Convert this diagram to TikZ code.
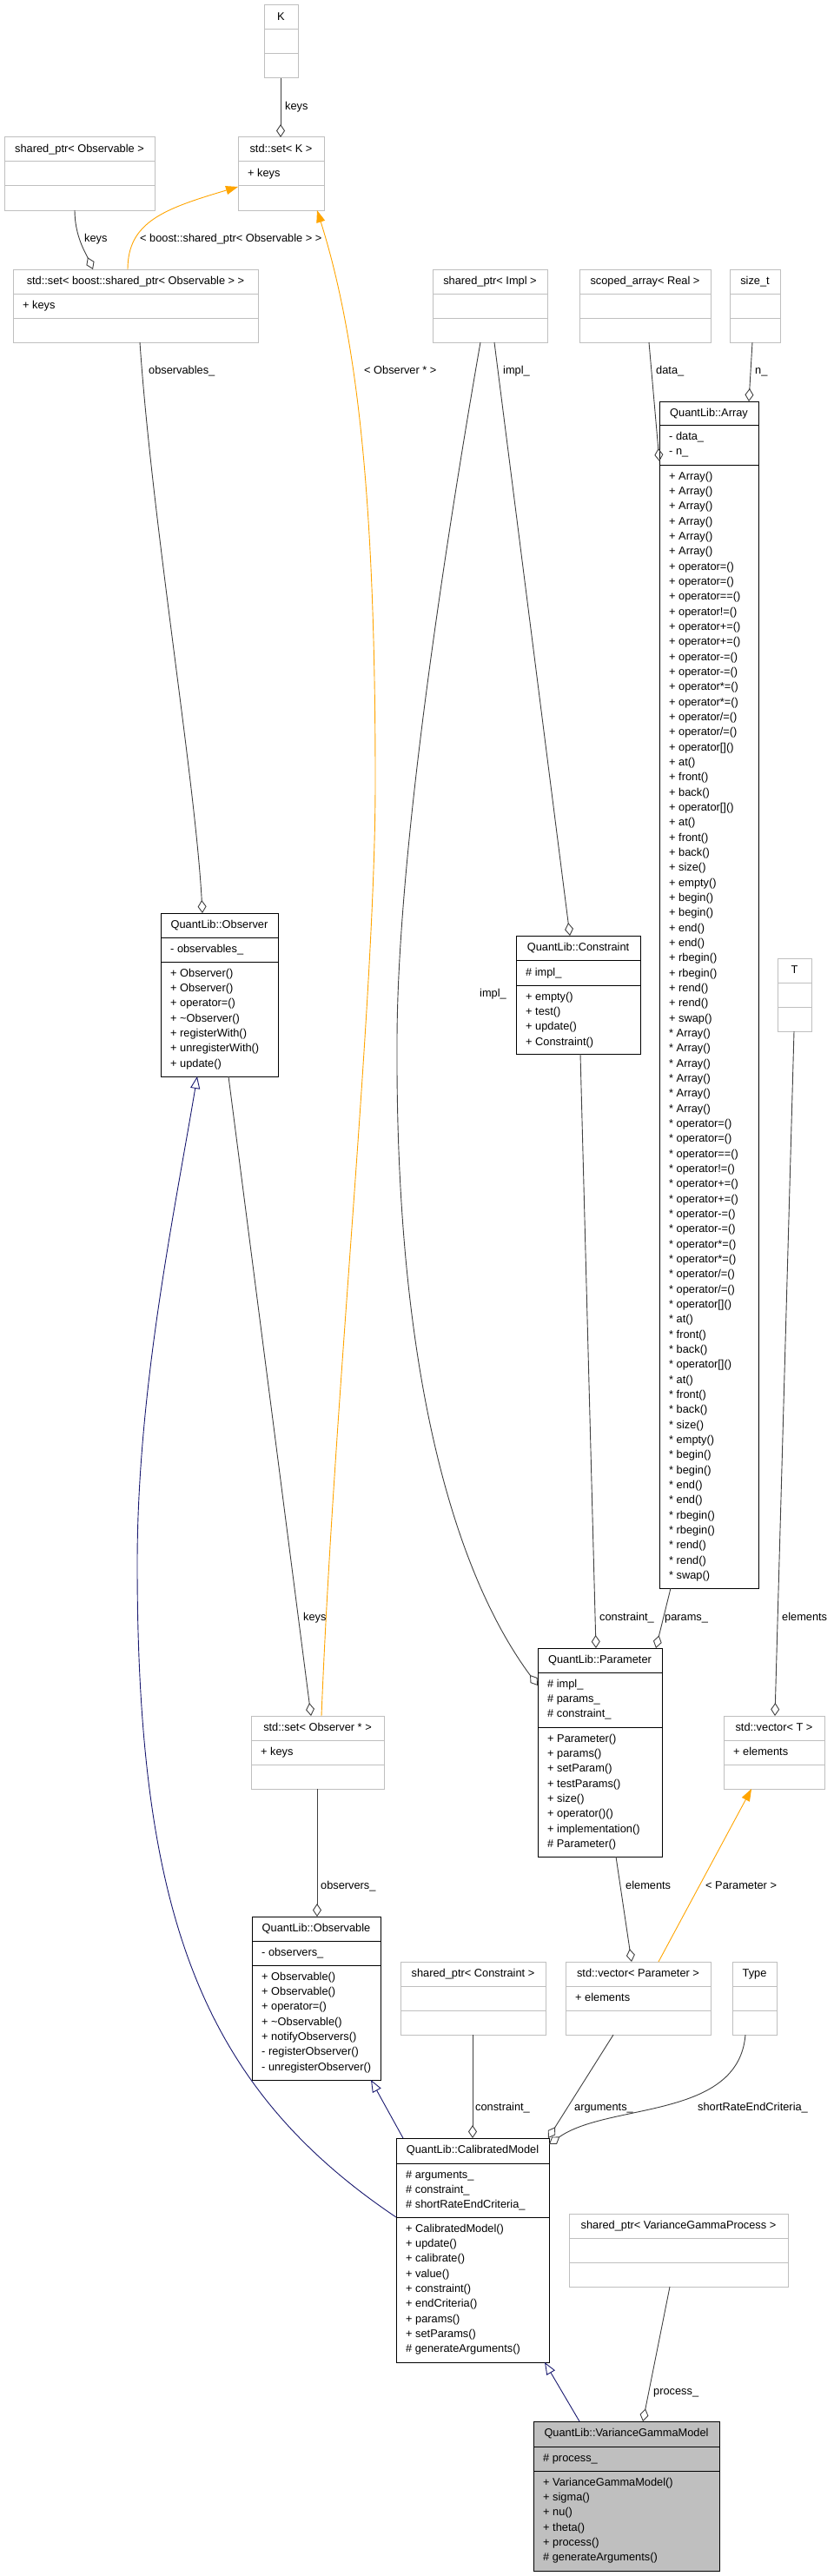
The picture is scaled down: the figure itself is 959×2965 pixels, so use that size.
\documentclass[tikz,border=0pt]{standalone}
\usepackage{fontspec}
\setmainfont{Liberation Sans}
\usetikzlibrary{arrows.meta}
\definecolor{extgray}{HTML}{BFBFBF}
\definecolor{edgegray}{HTML}{404040}
\definecolor{genblue}{HTML}{191970}
\definecolor{tmplorange}{HTML}{FFA500}
\definecolor{selfill}{HTML}{BFBFBF}
\tikzset{
 every node/.style={font=\fontsize{12.8}{15}\selectfont},
 extbox/.style={draw=extgray, line width=1pt, fill=white, inner sep=0pt, outer sep=0pt},
 clsbox/.style={draw=black, line width=1pt, fill=white, inner sep=0pt, outer sep=0pt},
 selbox/.style={draw=black, line width=1pt, fill=selfill, inner sep=0pt, outer sep=0pt},
 extsep/.style={draw=extgray, line width=1pt},
 clssep/.style={draw=black, line width=1pt},
 ttl/.style={anchor=center, inner sep=0pt, text height=9.2pt, text depth=2.7pt},
 mem/.style={anchor=west, inner sep=0pt, text height=9.2pt, text depth=2.7pt},
 lbl/.style={anchor=west, inner sep=0pt, text height=9.2pt, text depth=2.7pt},
 usage/.style={draw=edgegray, line width=0.9pt, -{Diamond[open, length=15pt, width=10pt]}},
 gen/.style={draw=genblue, line width=0.9pt, -{Triangle[open, length=14pt, width=11pt]}},
 tmpl/.style={draw=tmplorange, line width=0.9pt, -{Triangle[length=14pt, width=10pt]}}
}
\newcommand\extcls[6]{% name, L, T, R, title, attr
 \pgfmathsetmacro\kw{#4-#2}%
 \pgfmathsetmacro\ya{#3+28}\pgfmathsetmacro\yb{#3+56}%
 \pgfmathsetmacro\yt{#3+14}\pgfmathsetmacro\yc{#3+42}%
 \pgfmathsetmacro\xc{(#2+#4)/2}\pgfmathsetmacro\xm{#2+11}%
 \node[extbox, minimum width=\kw pt, minimum height=84pt, anchor=north west] (#1) at (#2,#3) {};
 \draw[extsep] (#2,\ya) -- (#4,\ya);
 \draw[extsep] (#2,\yb) -- (#4,\yb);
 \node[ttl] (#1-t) at (\xc,\yt) {#5};
 \if\relax\detokenize{#6}\relax\else\node[mem] (#1-a) at (\xm,\yc) {#6};\fi
}
\newcommand\klass[9]{% name, L, T, R, B, style, sep1, sep2, title
 \pgfmathsetmacro\kw{#4-#2}\pgfmathsetmacro\kh{#5-#3}%
 \pgfmathsetmacro\xc{(#2+#4)/2}\pgfmathsetmacro\yt{#3+14}%
 \node[#6, minimum width=\kw pt, minimum height=\kh pt, anchor=north west] (#1) at (#2,#3) {};
 \draw[clssep] (#2,#7) -- (#4,#7);
 \draw[clssep] (#2,#8) -- (#4,#8);
 \node[ttl] (#1-t) at (\xc,\yt) {#9};
}
\newcommand\mems[4]{% prefix, x, y0, list
 \foreach \t [count=\i from 0] in {#4} {\node[mem] (#1-\i) at (#2,{#3+\i*17.33}) {\t};}
}
\begin{document}
\begin{tikzpicture}[x=1pt,y=-1pt]
\fill[white] (0,0) rectangle (959,2965);
\useasboundingbox (0,0) rectangle (959,2965);

% ---------- external (grey) classes ----------
\extcls{K}{304}{6}{343}{K}{}
\extcls{setK}{274}{158}{373}{std::set< K >}{+ keys}
\extcls{spObs}{5}{158}{178}{shared\_ptr< Observable >}{}
\extcls{setBoost}{15}{310}{297}{std::set< boost::shared\_ptr< Observable > >}{+ keys}
\extcls{spImpl}{498}{310}{630}{shared\_ptr< Impl >}{}
\extcls{scoped}{667}{310}{818}{scoped\_array< Real >}{}
\extcls{sizet}{840}{310}{898}{size\_t}{}
\extcls{Tbox}{895}{1103}{934}{T}{}
\extcls{setObs}{289}{1975}{442}{std::set< Observer * >}{+ keys}
\extcls{vecT}{833}{1975}{949}{std::vector< T >}{+ elements}
\extcls{spCons}{461}{2258}{628}{shared\_ptr< Constraint >}{}
\extcls{vecParam}{651}{2258}{818}{std::vector< Parameter >}{+ elements}
\extcls{type}{843}{2258}{894}{Type}{}
\extcls{spVGP}{655}{2548}{907}{shared\_ptr< VarianceGammaProcess >}{}

% ---------- QuantLib classes ----------
\klass{array}{759}{462}{873}{1828}{clsbox}{489}{535}{QuantLib::Array}
\mems{array-a}{770}{503}{- data\_, - n\_}
\mems{array-m}{770}{549}{+ Array(), + Array(), + Array(), + Array(), + Array(), + Array(),
 + operator=(), + operator=(), + operator==(), + operator!=(), + operator+=(), + operator+=(),
 + operator-=(), + operator-=(), + operator*=(), + operator*=(), + operator/=(), + operator/=(),
 + operator[](), + at(), + front(), + back(), + operator[](), + at(), + front(), + back(),
 + size(), + empty(), + begin(), + begin(), + end(), + end(), + rbegin(), + rbegin(),
 + rend(), + rend(), + swap(),
 * Array(), * Array(), * Array(), * Array(), * Array(), * Array(),
 * operator=(), * operator=(), * operator==(), * operator!=(), * operator+=(), * operator+=(),
 * operator-=(), * operator-=(), * operator*=(), * operator*=(), * operator/=(), * operator/=(),
 * operator[](), * at(), * front(), * back(), * operator[](), * at(), * front(), * back(),
 * size(), * empty(), * begin(), * begin(), * end(), * end(), * rbegin(), * rbegin(),
 * rend(), * rend(), * swap()}

\klass{observer}{185}{1051}{320}{1239}{clsbox}{1079}{1107}{QuantLib::Observer}
\mems{observer-a}{196}{1093}{- observables\_}
\mems{observer-m}{196}{1121}{+ Observer(), + Observer(), + operator=(), + \textasciitilde Observer(), + registerWith(), + unregisterWith(), + update()}

\klass{constraint}{594}{1077}{737}{1213}{clsbox}{1105}{1134}{QuantLib::Constraint}
\mems{constraint-a}{605}{1120}{\# impl\_}
\mems{constraint-m}{605}{1148}{+ empty(), + test(), + update(), + Constraint()}

\klass{param}{619}{1897}{762}{2137}{clsbox}{1925}{1988}{QuantLib::Parameter}
\mems{param-a}{630}{1939}{\# impl\_, \# params\_, \# constraint\_}
\mems{param-m}{630}{2002}{+ Parameter(), + params(), + setParam(), + testParams(), + size(), + operator()(), + implementation(), \# Parameter()}

\klass{observable}{290}{2206}{438}{2394}{clsbox}{2234}{2262}{QuantLib::Observable}
\mems{observable-a}{301}{2248}{- observers\_}
\mems{observable-m}{301}{2276}{+ Observable(), + Observable(), + operator=(), + \textasciitilde Observable(), + notifyObservers(), - registerObserver(), - unregisterObserver()}

\klass{calib}{456}{2461}{632}{2719}{clsbox}{2490}{2552}{QuantLib::CalibratedModel}
\mems{calib-a}{467}{2504}{\# arguments\_, \# constraint\_, \# shortRateEndCriteria\_}
\mems{calib-m}{467}{2566}{+ CalibratedModel(), + update(), + calibrate(), + value(), + constraint(), + endCriteria(), + params(), + setParams(), \# generateArguments()}

\klass{vgm}{614}{2787}{828}{2959}{selbox}{2816}{2844}{QuantLib::VarianceGammaModel}
\mems{vgm-a}{625}{2830}{\# process\_}
\mems{vgm-m}{625}{2858}{+ VarianceGammaModel(), + sigma(), + nu(), + theta(), + process(), \# generateArguments()}

% ---------- connectors ----------
\draw[usage] ([shift={(19,84)}]K.north west) -- ([shift={(49,0)}]setK.north west);
\draw[usage] ([shift={(81,84)}]spObs.north west) .. controls +(0,30) and +(-8,-18) .. ([shift={(92,0)}]setBoost.north west);
\draw[tmpl] ([shift={(132,0)}]setBoost.north west) .. controls +(0,-55) and +(-84,25) .. ([shift={(0,57)}]setK.north west);
\draw[tmpl] ([shift={(81,0)}]setObs.north west) .. controls +(15,-375) and +(0,250) .. (432,900) .. controls +(0,-300) and +(50,158) .. ([shift={(91,84)}]setK.north west);
\draw[usage] ([shift={(146,84)}]setBoost.north west) .. controls +(14,206) and +(-8,-151) .. ([shift={(48,0)}]observer.north west);
\draw[usage] ([shift={(71,84)}]spImpl.north west) -- ([shift={(62,0)}]constraint.north west);
\draw[usage] ([shift={(55,84)}]spImpl.north west) .. controls +(-48,276) and +(0,-200) .. (457,1200) .. controls +(-2,400) and +(-89,-120) .. ([shift={(0,43)}]param.north west);
\draw[usage] ([shift={(80,84)}]scoped.north west) -- ([shift={(0,69)}]array.north west);
\draw[usage] ([shift={(26,84)}]sizet.north west) -- ([shift={(103,0)}]array.north west);
\draw[usage] ([shift={(78,188)}]observer.north west) -- ([shift={(69,0)}]setObs.north west);
\draw[usage] ([shift={(74,136)}]constraint.north west) -- ([shift={(67,0)}]param.north west);
\draw[usage] ([shift={(13,1366)}]array.north west) -- ([shift={(136,0)}]param.north west);
\draw[usage] ([shift={(19,84)}]Tbox.north west) -- ([shift={(59,0)}]vecT.north west);
\draw[usage] ([shift={(76,84)}]setObs.north west) -- ([shift={(75,0)}]observable.north west);
\draw[usage] ([shift={(90,240)}]param.north west) -- ([shift={(76,0)}]vecParam.north west);
\draw[tmpl] ([shift={(107,0)}]vecParam.north west) -- ([shift={(32,84)}]vecT.north west);
\draw[usage] ([shift={(83,84)}]spCons.north west) -- ([shift={(88,0)}]calib.north west);
\draw[usage] ([shift={(55,84)}]vecParam.north west) -- ([shift={(175,0)}]calib.north west);
\draw[usage] ([shift={(15,84)}]type.north west) .. controls +(-8,98) and +(68,-48) .. ([shift={(176,7)}]calib.north west);
\draw[gen] ([shift={(8,0)}]calib.north west) -- ([shift={(137,188)}]observable.north west);
\draw[gen] ([shift={(0,91)}]calib.north west) .. controls +(-226,-152) and +(0,400) .. (158,1800) .. controls +(0,-200) and +(-27,161) .. ([shift={(42,188)}]observer.north west);
\draw[gen] ([shift={(53,0)}]vgm.north west) -- ([shift={(171,258)}]calib.north west);
\draw[usage] ([shift={(116,84)}]spVGP.north west) -- ([shift={(126,0)}]vgm.north west);

% ---------- connector labels ----------
\node[lbl] (l1) at (328,123) {keys};
\node[lbl] (l2) at (97,275) {keys};
\node[lbl] (l3) at (161,275) {< boost::shared\_ptr< Observable > >};
\node[lbl] (l4) at (171,427) {observables\_};
\node[lbl] (l5) at (419,427) {< Observer * >};
\node[lbl] (l6) at (579,427) {impl\_};
\node[lbl] (l7) at (755,427) {data\_};
\node[lbl] (l8) at (869,427) {n\_};
\node[lbl] (l9) at (552,1144) {impl\_};
\node[lbl] (l10) at (349,1862) {keys};
\node[lbl] (l11) at (690,1862) {constraint\_};
\node[lbl] (l12) at (765,1862) {params\_};
\node[lbl] (l13) at (900,1862) {elements};
\node[lbl] (l14) at (369,2171) {observers\_};
\node[lbl] (l15) at (720,2171) {elements};
\node[lbl] (l16) at (812,2171) {< Parameter >};
\node[lbl] (l17) at (547,2426) {constraint\_};
\node[lbl] (l18) at (661,2426) {arguments\_};
\node[lbl] (l19) at (803,2426) {shortRateEndCriteria\_};
\node[lbl] (l20) at (752,2753) {process\_};
\end{tikzpicture}
\end{document}
